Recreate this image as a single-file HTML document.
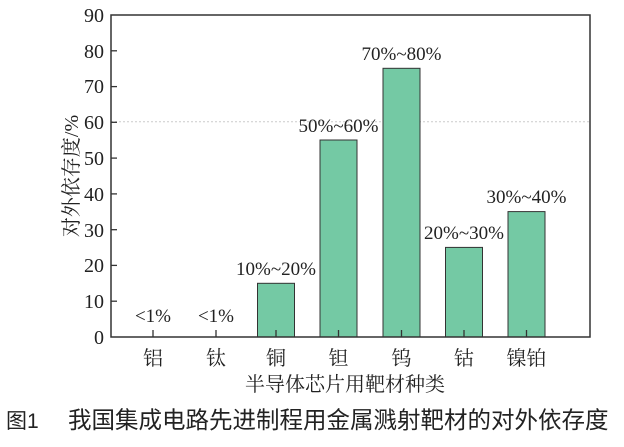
<!DOCTYPE html>
<html><head><meta charset="utf-8"><style>
body{margin:0;background:#fff;width:624px;height:442px;overflow:hidden}
</style></head><body>
<svg width="624" height="442" xmlns="http://www.w3.org/2000/svg" font-family="Liberation Serif, Noto Serif CJK SC, serif">
<line x1="111" y1="121.7" x2="590" y2="121.7" stroke="#ccc" stroke-width="1" stroke-dasharray="2,2"/>
<g fill="#74c9a4" stroke="#333" stroke-width="1">
<rect x="257.5" y="283.3" width="37" height="53.7"/>
<rect x="320" y="140" width="37" height="197"/>
<rect x="383" y="68.3" width="37" height="268.7"/>
<rect x="445.5" y="247.4" width="37" height="89.6"/>
<rect x="508" y="211.6" width="37" height="125.4"/>
</g>
<rect x="111" y="15" width="479" height="322" fill="none" stroke="#333" stroke-width="1.5"/>
<g stroke="#333" stroke-width="1.3">
<line x1="111" y1="301.2" x2="117" y2="301.2"/><line x1="111" y1="265.4" x2="117" y2="265.4"/>
<line x1="111" y1="229.7" x2="117" y2="229.7"/><line x1="111" y1="193.9" x2="117" y2="193.9"/>
<line x1="111" y1="158.1" x2="117" y2="158.1"/><line x1="111" y1="122.3" x2="117" y2="122.3"/>
<line x1="111" y1="86.6" x2="117" y2="86.6"/><line x1="111" y1="50.8" x2="117" y2="50.8"/>
<line x1="153" y1="337" x2="153" y2="330"/><line x1="216" y1="337" x2="216" y2="330"/>
<line x1="276" y1="337" x2="276" y2="330"/><line x1="338.5" y1="337" x2="338.5" y2="330"/>
<line x1="401.5" y1="337" x2="401.5" y2="330"/><line x1="464" y1="337" x2="464" y2="330"/>
<line x1="526.5" y1="337" x2="526.5" y2="330"/>
</g>
<g font-size="20" fill="#222" text-anchor="end">
<text x="104" y="344">0</text><text x="104" y="308">10</text><text x="104" y="272">20</text>
<text x="104" y="237">30</text><text x="104" y="201">40</text><text x="104" y="165">50</text>
<text x="104" y="129">60</text><text x="104" y="93">70</text><text x="104" y="58">80</text>
<text x="104" y="22">90</text>
</g>
<g font-size="19" fill="#222" text-anchor="middle">
<text x="153" y="322">&lt;1%</text><text x="216" y="322">&lt;1%</text>
<text x="276" y="275">10%~20%</text><text x="338.5" y="132">50%~60%</text>
<text x="401.5" y="60">70%~80%</text><text x="464" y="239">20%~30%</text>
<text x="526.5" y="203">30%~40%</text>
</g>
<g font-size="20" fill="#222" text-anchor="middle">
<text x="153" y="365">铝</text><text x="216" y="365">钛</text><text x="276" y="365">铜</text>
<text x="338.5" y="365">钽</text><text x="401.5" y="365">钨</text><text x="464" y="365">钴</text>
<text x="526.5" y="365">镍铂</text>
<text x="345" y="391">半导体芯片用靶材种类</text>
<text transform="translate(78,176) rotate(-90)">对外依存度/%</text>
</g>
<text x="6" y="428" font-size="21" fill="#222" font-family="Liberation Sans, Noto Sans CJK SC, sans-serif">图1</text>
<text x="68" y="428" font-size="23.5" fill="#222" font-family="Liberation Sans, Noto Sans CJK SC, sans-serif">我国集成电路先进制程用金属溅射靶材的对外依存度</text>
</svg>
</body></html>
